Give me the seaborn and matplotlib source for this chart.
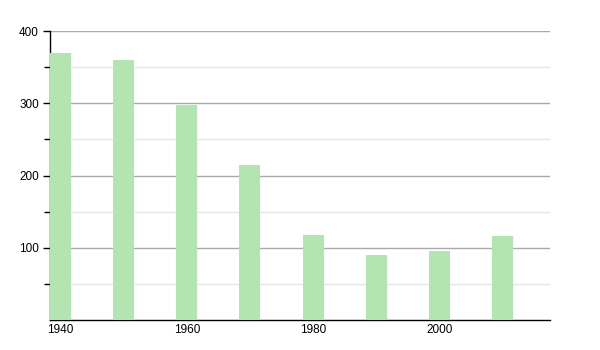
import matplotlib
matplotlib.use("Agg")
import matplotlib.pyplot as plt
import seaborn as sns
import pandas as pd
from matplotlib.ticker import FixedLocator

years = [1940, 1950, 1960, 1970, 1980, 1990, 2000, 2010]
values = [370, 360, 297, 214, 117, 90, 95, 116]
xtick_labels = [1940, 1960, 1980, 2000]
ytick_labels = [100, 200, 300, 400]

sns.set_theme(style="white")
plt.rcParams['font.family'] = ['Liberation Sans', 'DejaVu Sans']

df = pd.DataFrame({"year": years, "value": values})

fig = plt.figure(figsize=(6, 3.5), dpi=100)
ax = fig.add_axes([50/600, 30/350, 500/600, 289/350])

sns.barplot(data=df, x="year", y="value", native_scale=True, width=0.333,
            color="#b3e5b0", saturation=1, edgecolor="none", ax=ax, zorder=3)

ax.set_xlim(1938.34, 2017.5)
ax.set_ylim(0, 400)
ax.set_xlabel("")
ax.set_ylabel("")

ax.yaxis.set_major_locator(FixedLocator(ytick_labels))
ax.yaxis.set_minor_locator(FixedLocator([50, 150, 250, 350]))
ax.xaxis.set_major_locator(FixedLocator(xtick_labels))
ax.set_xticklabels([str(v) for v in xtick_labels])
ax.set_yticklabels([str(v) for v in ytick_labels])

ax.grid(True, which="major", axis="y", color="#aaaaaa", linewidth=1, zorder=1)
ax.grid(True, which="minor", axis="y", color="#e6e6e6", linewidth=1, zorder=1)
ax.set_axisbelow(True)

for s in ["top", "right"]:
    ax.spines[s].set_visible(False)
for s in ["left", "bottom"]:
    ax.spines[s].set_color("black")
    ax.spines[s].set_linewidth(1)

ax.tick_params(axis="y", which="major", left=True, length=5, width=1, color="black",
               labelsize=8.5, pad=3, labelcolor="black")
ax.tick_params(axis="y", which="minor", left=True, length=4, width=1, color="black")
ax.tick_params(axis="x", which="major", bottom=False, length=0, labelsize=8.5, pad=3,
               labelcolor="black")

fig.savefig("out.png", dpi=100)
